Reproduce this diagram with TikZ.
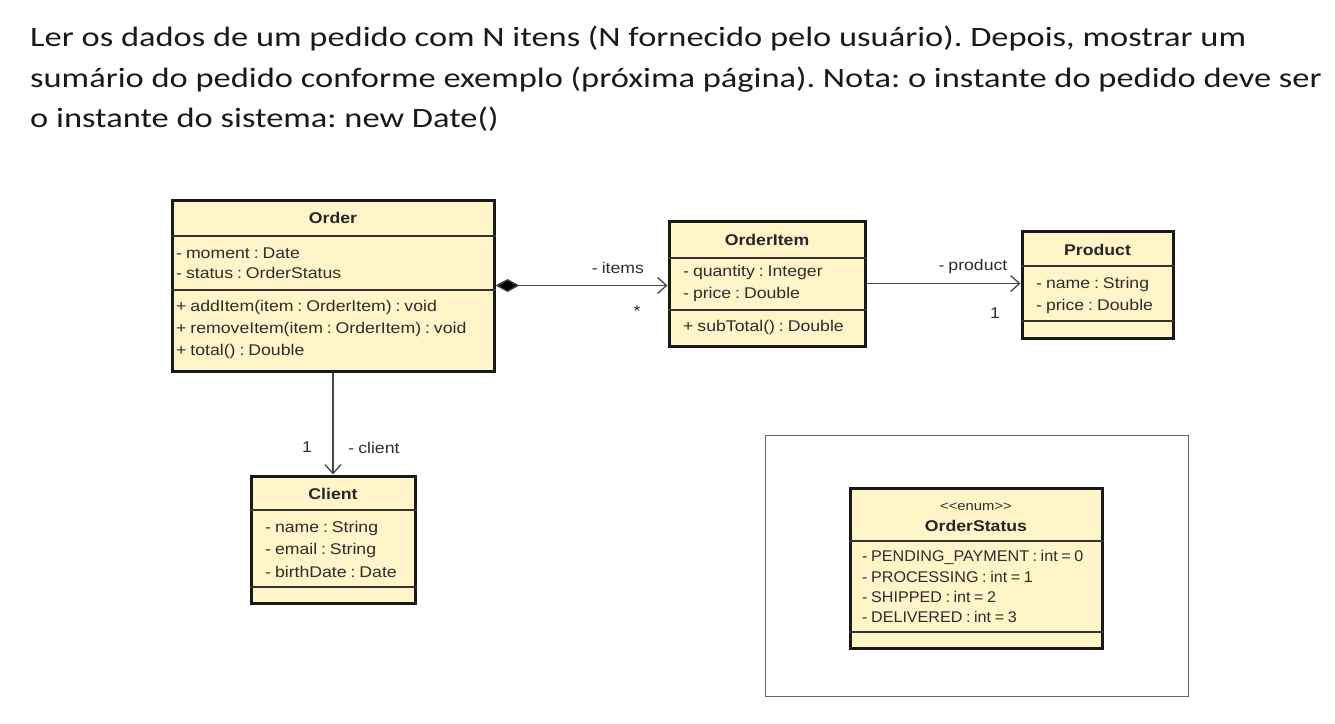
\documentclass[tikz,border=0pt]{standalone}
\usepackage{fontspec}
\setmainfont{Carlito}
\newfontfamily\headfont[FakeStretch=1.23]{Carlito}
\newfontfamily\umlfont[FakeStretch=1.14,WordSpace=0.8]{Liberation Sans}
\newfontfamily\umlcapsfont[FakeStretch=1.04,WordSpace=0.8]{Liberation Sans}
\usetikzlibrary{arrows.meta}
\definecolor{umlfill}{RGB}{255,245,200}
\definecolor{umltext}{RGB}{45,45,45}
\definecolor{linkgray}{RGB}{70,70,70}
\frenchspacing
\begin{document}
\begin{tikzpicture}[x=1pt,y=-1pt,
  classbox/.style={draw=black!90, line width=3pt, fill=umlfill, inner sep=0pt},
  sepline/.style={draw=black!80, line width=1.4pt},
  member/.style={anchor=west, inner sep=0pt, text=umltext, font=\umlfont\fontsize{15.5}{18}\selectfont},
  capsmember/.style={member, font=\umlcapsfont\fontsize{15.5}{18}\selectfont},
  cname/.style={inner sep=0pt, text=black!85, font=\umlfont\bfseries\fontsize{15.5}{18}\selectfont},
  linklabel/.style={inner sep=0pt, text=umltext, font=\umlfont\fontsize{15.5}{18}\selectfont},
  assoc/.style={draw=linkgray, line width=1.3pt, -{Straight Barb[length=9pt,width=16pt,line width=1.3pt]}},
  comp/.style={assoc, {Diamond[length=24pt,width=13pt,fill=black]}-{Straight Barb[length=9pt,width=16pt,line width=1.3pt]}},
  heading/.style={anchor=north west, inner sep=0pt, align=left, text=black!90,
    font=\headfont\fontsize{28}{40.5}\selectfont}]
\useasboundingbox (0,0) rectangle (1335,723);

% statement of the exercise
\node[heading] (statement) at (30,26) {Ler os dados de um pedido com N itens (N fornecido pelo usuário). Depois, mostrar um\\
sumário do pedido conforme exemplo (próxima página). Nota: o instante do pedido deve ser\\
o instante do sistema: new Date()};

% frame around the enumeration
\node[draw=black!60, line width=1pt, minimum width=423pt, minimum height=261pt, inner sep=0pt] (frame) at (976.5,565.5) {};

% class Order
\node[classbox, minimum width=322pt, minimum height=171pt] (order) at (333,285.5) {};
\draw[sepline] (order.west |- 0,236) -- (order.east |- 0,236);
\draw[sepline] (order.west |- 0,290) -- (order.east |- 0,290);
\node[cname] (orderT) at (333,218) {Order};
\node[member] (o1) at (176,253) {- moment : Date};
\node[member] (o2) at (176,273) {- status : OrderStatus};
\node[member] (o3) at (176,307) {+ addItem(item : OrderItem) : void};
\node[member] (o4) at (176,329) {+ removeItem(item : OrderItem) : void};
\node[member] (o5) at (176,351) {+ total() : Double};

% class OrderItem
\node[classbox, minimum width=196pt, minimum height=125pt] (item) at (767,283.5) {};
\draw[sepline] (item.west |- 0,258) -- (item.east |- 0,258);
\draw[sepline] (item.west |- 0,310) -- (item.east |- 0,310);
\node[cname] (itemT) at (767,240) {OrderItem};
\node[member] (i1) at (683,272) {- quantity : Integer};
\node[member] (i2) at (683,294) {- price : Double};
\node[member] (i3) at (683,327) {+ subTotal() : Double};

% class Product
\node[classbox, minimum width=151pt, minimum height=107pt] (product) at (1097.5,284.5) {};
\draw[sepline] (product.west |- 0,266) -- (product.east |- 0,266);
\draw[sepline] (product.west |- 0,321) -- (product.east |- 0,321);
\node[cname] (productT) at (1097.5,250) {Product};
\node[member] (p1) at (1036,284) {- name : String};
\node[member] (p2) at (1036,306) {- price : Double};

% class Client
\node[classbox, minimum width=164pt, minimum height=127pt] (client) at (333,539.5) {};
\draw[sepline] (client.west |- 0,510) -- (client.east |- 0,510);
\draw[sepline] (client.west |- 0,587) -- (client.east |- 0,587);
\node[cname] (clientT) at (333,494) {Client};
\node[member] (c1) at (265,528) {- name : String};
\node[member] (c2) at (265,550) {- email : String};
\node[member] (c3) at (265,572) {- birthDate : Date};

% enumeration OrderStatus
\node[classbox, minimum width=252pt, minimum height=160pt] (status) at (976,568) {};
\draw[sepline] (status.west |- 0,541) -- (status.east |- 0,541);
\draw[sepline] (status.west |- 0,632) -- (status.east |- 0,632);
\node[linklabel, font=\umlfont\fontsize{13}{16}\selectfont] (stereo) at (976,507) {<{}<enum>{}>};
\node[cname] (statusT) at (976,526) {OrderStatus};
\node[capsmember] (s1) at (862,557) {- PENDING\_PAYMENT : int = 0};
\node[capsmember] (s2) at (862,577) {- PROCESSING : int = 1};
\node[capsmember] (s3) at (862,597) {- SHIPPED : int = 2};
\node[capsmember] (s4) at (862,617) {- DELIVERED : int = 3};

% associations
\draw[comp] (order.east) -- (order.east -| item.west);
\node[linklabel] (itemsL) at (618,268) {- items};
\node[linklabel] (itemsM) at (637,311) {*};

\draw[assoc] (item.east) -- (item.east -| product.west);
\node[linklabel] (productL) at (973,266) {- product};
\node[linklabel] (productM) at (995,313) {1};

\draw[assoc] (order.south) -- (client.north);
\node[linklabel] (clientM) at (307,447) {1};
\node[linklabel] (clientL) at (374,448) {- client};
\end{tikzpicture}
\end{document}
